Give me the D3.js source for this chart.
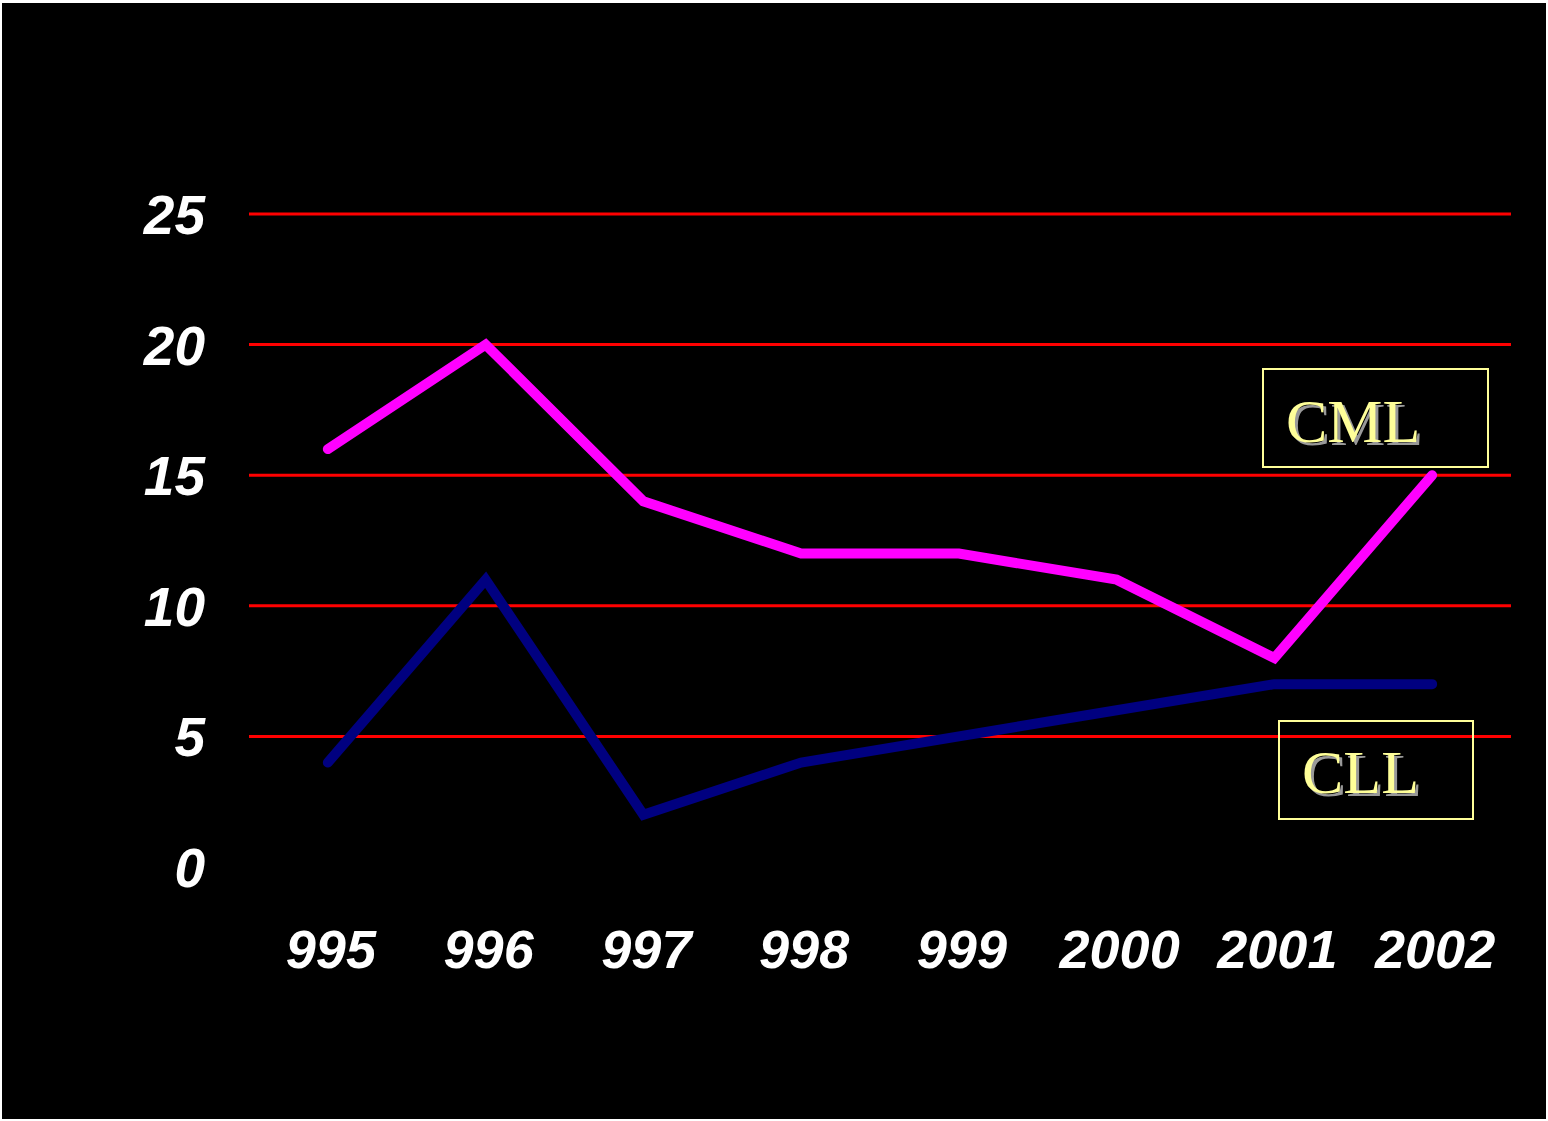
<!DOCTYPE html>
<html>
<head>
<meta charset="utf-8">
<script src="https://cdn.jsdelivr.net/npm/d3@7"></script>
<style>
  html, body { margin: 0; padding: 0; background: #fff; }
  svg { display: block; }
</style>
</head>
<body>
<div id="chart"></div>
<script>
// chart data
var years = ["995", "996", "997", "998", "999", "2000", "2001", "2002"];
var cml = [16, 20, 14, 12, 12, 11, 8, 15];
var cll = [4, 11, 2, 4, 5, 6, 7, 7];
var yTicks = [0, 5, 10, 15, 20, 25];
var seriesNames = ["CML", "CLL"];

var W = 1548, H = 1121;
var plotLeft = 249, plotRight = 1511, plotTop = 214, plotBottom = 867;

var svg = d3.select("#chart").append("svg")
  .attr("width", W)
  .attr("height", H);

svg.append("rect")
  .attr("x", 2).attr("y", 3)
  .attr("width", W - 4).attr("height", H - 5)
  .attr("fill", "#000");

var x = d3.scalePoint().domain(years).range([plotLeft, plotRight]).padding(0.5);
var y = d3.scaleLinear().domain([0, 25]).range([plotBottom, plotTop]);

// red gridlines (none at zero)
svg.append("g").selectAll("line")
  .data(yTicks.filter(function(d) { return d > 0; }))
  .enter().append("line")
  .attr("x1", plotLeft).attr("x2", plotRight)
  .attr("y1", function(d) { return y(d); })
  .attr("y2", function(d) { return y(d); })
  .attr("stroke", "#ff0000")
  .attr("stroke-width", 3);

// y labels
svg.append("g").selectAll("text")
  .data(yTicks)
  .enter().append("text")
  .attr("x", 205)
  .attr("y", function(d) { return y(d) + 20; })
  .attr("text-anchor", "end")
  .attr("fill", "#fff")
  .style("font", "italic bold 55px 'Liberation Sans', Arial, sans-serif")
  .text(function(d) { return d; });

// x labels
svg.append("g").selectAll("text")
  .data(years)
  .enter().append("text")
  .attr("x", function(d) { return x(d) + 3; })
  .attr("y", 968)
  .attr("text-anchor", "middle")
  .attr("fill", "#fff")
  .style("font", "italic bold 54px 'Liberation Sans', Arial, sans-serif")
  .text(function(d) { return d; });

var line = d3.line()
  .x(function(d, i) { return x(years[i]); })
  .y(function(d) { return y(d); });

svg.append("path")
  .datum(cll)
  .attr("d", line)
  .attr("fill", "none")
  .attr("stroke", "#000080")
  .attr("stroke-width", 10)
  .attr("stroke-linecap", "round")
  .attr("stroke-linejoin", "miter");

svg.append("path")
  .datum(cml)
  .attr("d", line)
  .attr("fill", "none")
  .attr("stroke", "#ff00ff")
  .attr("stroke-width", 10)
  .attr("stroke-linecap", "round")
  .attr("stroke-linejoin", "miter");

// label boxes
var boxes = [
  { name: seriesNames[0], x: 1263, y: 369, w: 225, h: 98, tx: 1286, ty: 442 },
  { name: seriesNames[1], x: 1279, y: 721, w: 194, h: 98, tx: 1302, ty: 793 }
];

var g = svg.append("g").selectAll("g")
  .data(boxes)
  .enter().append("g");

g.append("rect")
  .attr("x", function(d) { return d.x; })
  .attr("y", function(d) { return d.y; })
  .attr("width", function(d) { return d.w; })
  .attr("height", function(d) { return d.h; })
  .attr("fill", "none")
  .attr("stroke", "#ffff99")
  .attr("stroke-width", 2);

g.append("text")
  .attr("x", function(d) { return d.tx + 3; })
  .attr("y", function(d) { return d.ty + 3; })
  .attr("fill", "#999")
  .style("font", "62px 'Liberation Serif', 'Times New Roman', serif")
  .text(function(d) { return d.name; });

g.append("text")
  .attr("x", function(d) { return d.tx; })
  .attr("y", function(d) { return d.ty; })
  .attr("fill", "#ffff99")
  .style("font", "62px 'Liberation Serif', 'Times New Roman', serif")
  .text(function(d) { return d.name; });
</script>
</body>
</html>
